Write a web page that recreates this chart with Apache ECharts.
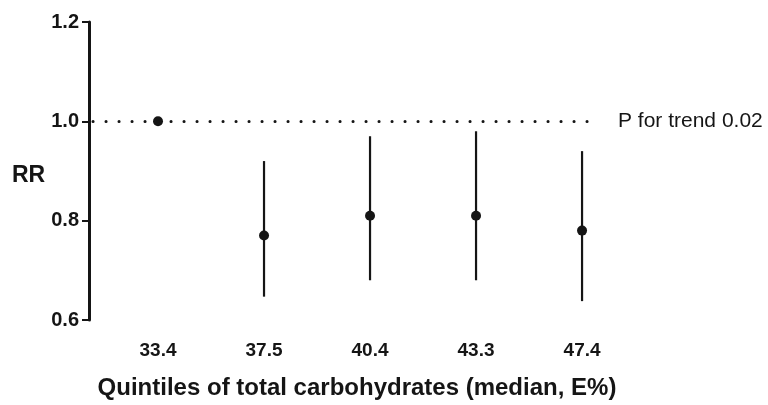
<!DOCTYPE html>
<html>
<head>
<meta charset="utf-8">
<script src="https://cdn.jsdelivr.net/npm/echarts@6/dist/echarts.min.js"></script>
<style>html,body{margin:0;padding:0;background:#fff}#c{width:768px;height:405px}</style>
</head>
<body>
<div id="c"></div>
<script>
var categories = ['33.4', '37.5', '40.4', '43.3', '47.4'];
var positions = [1, 2, 3, 4, 5];
var rr = [1.00, 0.77, 0.81, 0.81, 0.78];
var lower = [null, 0.647, 0.68, 0.68, 0.638];
var upper = [null, 0.92, 0.97, 0.98, 0.94];
var yTicks = [0.6, 0.8, 1.0, 1.2];
var trendText = 'P for trend 0.02';
var xTitle = 'Quintiles of total carbohydrates (median, E%)';
var yTitle = 'RR';

var ink = '#151515';
var font = '"Liberation Sans", Arial, sans-serif';

var points = positions.map(function (p, i) { return [p, rr[i]]; });
var bars = [];
positions.forEach(function (p, i) {
  if (lower[i] != null) bars.push([p, lower[i], upper[i]]);
});

var chart = echarts.init(document.getElementById('c'), null, { renderer: 'canvas' });
chart.setOption({
  animation: false,
  backgroundColor: '#fff',
  grid: { left: 89, right: 178, top: 22, bottom: 82, containLabel: false },
  xAxis: {
    type: 'value',
    min: 0.349,
    max: 5.075,
    axisLine: { show: false },
    axisTick: { show: false },
    splitLine: { show: false },
    axisLabel: {
      customValues: positions,
      formatter: function (v) { return categories[positions.indexOf(v)] || ''; },
      color: ink, fontFamily: font, fontWeight: 'bold', fontSize: 19, margin: 21
    },
    name: xTitle,
    nameLocation: 'middle',
    nameGap: 56,
    nameTextStyle: { color: ink, fontFamily: font, fontWeight: 'bold', fontSize: 24, padding: [0, 0, 0, 35] }
  },
  yAxis: {
    type: 'value',
    min: 0.6,
    max: 1.2,
    interval: 0.2,
    axisLine: { show: true, lineStyle: { color: ink, width: 3 } },
    axisTick: { show: true, length: 7, lineStyle: { color: ink, width: 2 } },
    splitLine: { show: false },
    axisLabel: {
      formatter: function (v) { return v.toFixed(1); },
      color: ink, fontFamily: font, fontWeight: 'bold', fontSize: 20, margin: 10
    }
  },
  graphic: [{
    type: 'text', left: 12, top: 164,
    style: { text: yTitle, fill: ink, font: 'bold 23px ' + font }
  }],
  series: [
    {
      type: 'custom',
      data: bars,
      renderItem: function (params, api) {
        var x = api.value(0);
        var a = api.coord([x, api.value(1)]);
        var b = api.coord([x, api.value(2)]);
        return {
          type: 'line',
          shape: { x1: a[0], y1: a[1], x2: b[0], y2: b[1] },
          style: { stroke: ink, lineWidth: 2.2 }
        };
      },
      z: 2
    },
    {
      type: 'scatter',
      data: points,
      symbol: 'circle',
      symbolSize: 10,
      itemStyle: { color: ink, opacity: 1 },
      z: 3,
      markLine: {
        silent: true,
        symbol: ['none', 'none'],
        data: [{ yAxis: 1.0 }],
        lineStyle: { color: ink, width: 3, type: [0.1, 12.9], cap: 'round', dashOffset: -4 },
        label: {
          show: true, position: 'end', distance: 28,
          formatter: trendText,
          color: ink, fontFamily: font, fontSize: 21
        }
      }
    }
  ]
});
</script>
</body>
</html>
